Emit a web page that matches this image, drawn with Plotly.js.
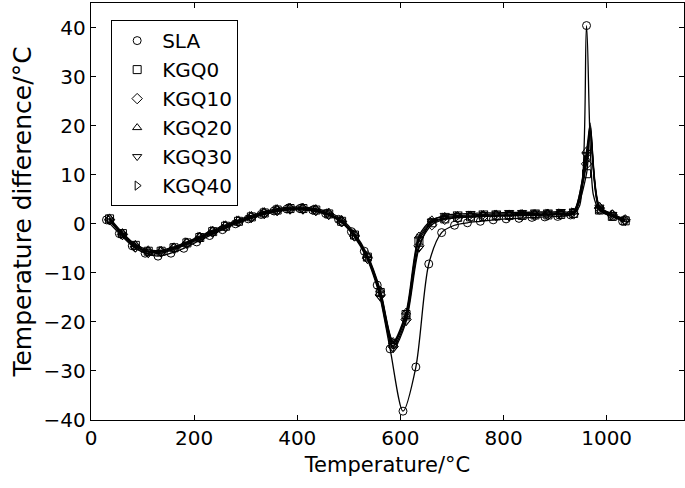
<!DOCTYPE html>
<html>
<head>
<meta charset="utf-8">
<script src="https://cdn.plot.ly/plotly-3.0.1.min.js"></script>
<style>html,body{margin:0;padding:0;background:#fff;}#chart{width:685px;height:488px;}</style>
</head>
<body>
<div id="chart"></div>
<script>
// Temperatures (°C) of sampled points
const tempSLA = [30,55,80,105,130,155,180,205,230,255,280,305,330,355,380,405,430,455,480,505,530,555,580,605,630,655,680,705,730,755,780,805,830,855,880,905,930,961,986,1011,1031];
const tempKGQ = [36,61,86,111,136,161,186,211,236,261,286,311,336,361,386,411,436,461,486,511,536,561,586,611,636,661,686,711,736,761,786,811,836,861,886,911,936,961,986,1011,1036];

// Temperature difference (°C)
const SLA   = [0.8,-2,-4.5,-6,-6.6,-6.0,-5.0,-3.7,-2.4,-1.2,0,1,1.9,2.6,3.0,3.1,2.8,2.1,0.9,-1.6,-5.6,-12.5,-25.5,-38.2,-29.2,-8.2,-1.8,-0.3,0.2,0.5,0.8,1.0,1.1,1.3,1.4,1.5,1.8,40.4,2.8,1.5,0.5];
const KGQ0  = [1.0,-2.0,-4.4,-5.6,-5.6,-4.9,-3.9,-2.8,-1.6,-0.5,0.5,1.4,2.2,2.8,3.1,3.1,2.8,2.0,0.5,-2.3,-6.8,-14.0,-24.5,-18.5,-3.5,0.2,1.0,1.3,1.4,1.5,1.6,1.7,1.7,1.8,1.8,1.9,2.1,10.2,2.8,1.5,0.6];
const KGQ10 = [0.8,-2.2,-4.7,-5.8,-5.7,-5.0,-4.0,-2.9,-1.7,-0.6,0.4,1.3,2.1,2.7,3.0,3.0,2.7,1.9,0.4,-2.5,-7.0,-14.5,-25.0,-19.5,-4.5,-0.2,0.9,1.2,1.4,1.5,1.6,1.6,1.7,1.7,1.8,1.9,2.0,12.2,3.2,1.8,0.8];
const KGQ20 = [1.2,-1.8,-4.2,-5.3,-5.4,-4.7,-3.7,-2.5,-1.3,-0.2,0.8,1.7,2.5,3.1,3.4,3.4,3.1,2.4,0.9,-1.9,-6.3,-13.5,-24.0,-18.0,-2.5,0.8,1.5,1.7,1.8,1.9,2.0,2.0,2.1,2.1,2.2,2.2,2.4,14.9,3.6,2.0,0.9];
const KGQ30 = [0.6,-2.4,-5.0,-6.1,-6.0,-5.2,-4.2,-3.1,-1.9,-0.8,0.2,1.1,1.9,2.5,2.8,2.8,2.5,1.7,0.2,-2.7,-7.3,-15.0,-25.5,-20.0,-5.0,0.5,1.7,2.0,2.1,2.2,2.2,2.3,2.3,2.4,2.4,2.5,2.6,14.0,3.4,1.9,0.4];
const KGQ40 = [0.9,-2.1,-4.6,-5.7,-5.6,-4.9,-3.8,-2.7,-1.5,-0.4,0.6,1.5,2.3,2.9,3.2,3.2,2.9,2.1,0.6,-2.2,-6.6,-13.8,-24.2,-18.8,-3.0,0.4,1.2,1.5,1.6,1.7,1.8,1.8,1.9,1.9,2.0,2.1,2.3,13.0,3.0,1.7,0.7];

// Extra points of the continuous curves that carry no marker (read from the line shape)
const lineOnlyT_SLA = [947, 974];
const lineOnlySLA   = [3.5, 6.0];
const lineOnlyT_KGQ = [968];
const peakKGQ0  = [19.0];
const peakKGQ10 = [20.5];
const peakKGQ20 = [20.0];
const peakKGQ30 = [18.5];
const peakKGQ40 = [19.5];

const names = ['SLA','KGQ0','KGQ10','KGQ20','KGQ30','KGQ40'];
const symbols = ['circle-open','square-open','diamond-open','triangle-up-open','triangle-down-open','triangle-right-open'];
const series = [SLA, KGQ0, KGQ10, KGQ20, KGQ30, KGQ40];
const extraV = [lineOnlySLA, peakKGQ0, peakKGQ10, peakKGQ20, peakKGQ30, peakKGQ40];

function merge(t, v, et, ev) {
  const pts = t.map((x, i) => [x, v[i]]).concat(et.map((x, i) => [x, ev[i]]));
  pts.sort((a, b) => a[0] - b[0]);
  return {xs: pts.map(p => p[0]), ys: pts.map(p => p[1])};
}

const traces = [];
series.forEach((v, i) => {
  const t = i === 0 ? tempSLA : tempKGQ;
  const et = i === 0 ? lineOnlyT_SLA : lineOnlyT_KGQ;
  const r = merge(t, v, et, extraV[i]);
  traces.push({x: r.xs, y: r.ys, mode: 'lines', type: 'scatter', showlegend: false,
    line: {color: '#000', width: 1.3, shape: 'spline', smoothing: 0.8}, hoverinfo: 'skip'});
});
series.forEach((v, i) => {
  const t = i === 0 ? tempSLA : tempKGQ;
  traces.push({x: t, y: v, mode: 'markers', type: 'scatter', name: names[i],
    marker: {symbol: symbols[i], size: 8, color: '#000', line: {width: 1, color: '#000'}}});
});

const fam = 'DejaVu Sans, Arial, sans-serif';
const f = (s) => ({family: fam, size: s, color: '#000'});
const layout = {
  width: 685, height: 488,
  margin: {l: 91, r: 1, t: 3, b: 68},
  paper_bgcolor: '#fff', plot_bgcolor: '#fff',
  font: f(19),
  showlegend: true,
  legend: {x: 0.034, y: 0.959, xanchor: 'left', yanchor: 'top',
    bordercolor: '#000', borderwidth: 1, bgcolor: '#fff',
    font: f(20), itemwidth: 40},
  xaxis: {range: [0, 1150], tickvals: [0,200,400,600,800,1000],
    ticks: 'inside', ticklen: 5, tickwidth: 1, tickcolor: '#000',
    showline: true, linecolor: '#000', linewidth: 1.2, mirror: 'ticks',
    showgrid: false, zeroline: false,
    tickfont: f(20),
    title: {text: 'Temperature/°C', font: f(21), standoff: 8}},
  yaxis: {range: [-40, 45], tickvals: [-40,-30,-20,-10,0,10,20,30,40],
    ticks: 'inside', ticklen: 5, tickwidth: 1, tickcolor: '#000',
    showline: true, linecolor: '#000', linewidth: 1.2, mirror: 'ticks',
    showgrid: false, zeroline: false,
    tickfont: f(20),
    title: {text: 'Temperature difference/°C', font: f(25), standoff: 4}}
};

Plotly.newPlot('chart', traces, layout, {displayModeBar: false, staticPlot: true});
</script>
</body>
</html>
